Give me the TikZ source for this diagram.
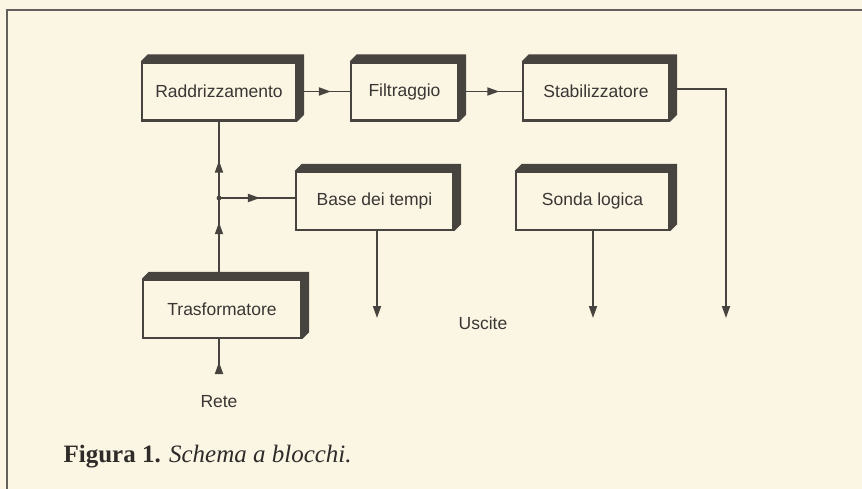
\documentclass[tikz,border=0pt]{standalone}
\usepackage{fontspec}
\setmainfont{Liberation Serif}
\setsansfont{Liberation Sans}
\usetikzlibrary{arrows.meta,calc,decorations.markings}
\definecolor{bgc}{HTML}{FBF6E4}
\definecolor{linec}{HTML}{47433F}
\definecolor{textc}{HTML}{3A3633}
\tikzset{
  blk/.style={draw=linec, line width=2.4pt, fill=bgc, minimum height=58pt,
    inner sep=0pt, font=\sffamily\fontsize{17.5}{20}\selectfont, text=textc},
  conn/.style={draw=linec, line width=1.8pt},
  tip/.style={-{Triangle[length=12pt,width=8pt]}},
  midarrow/.style={postaction={decorate},
    decoration={markings, mark=at position #1 with {\arrow{Triangle[length=12pt,width=8pt]}}}},
  lbl/.style={font=\sffamily\fontsize{17.5}{20}\selectfont, text=textc}
}
\begin{document}
\begin{tikzpicture}[x=1pt,y=-1pt]
\useasboundingbox (0,0) rectangle (862,489);
\fill[bgc] (0,0) rectangle (862,489);
\draw[draw=linec!85, line width=2pt] (7,489) -- (7,10) -- (862,10);

% blocks (front faces)
\node[blk, minimum width=154pt] (radd)  at (219,91.5)   {Raddrizzamento};
\node[blk, minimum width=107pt] (filt)  at (404.5,91.5) {Filtraggio};
\node[blk, minimum width=146pt] (stab)  at (596,91.5)   {Stabilizzatore};
\node[blk, minimum width=157pt] (base)  at (374.5,201)  {Base dei tempi};
\node[blk, minimum width=153pt] (sonda) at (592.5,201)  {Sonda logica};
\node[blk, minimum width=158pt] (trasf) at (222,309)    {Trasformatore};

% extruded dark edges
\foreach \n in {radd,filt,stab,base,sonda,trasf}{
  \fill[linec] (\n.north west) -- ++(7,-7) -- ($(\n.north east)+(7,-7)$)
    -- ($(\n.south east)+(7,-7)$) -- (\n.south east) -- (\n.north east) -- cycle;
}

% coordinates
\coordinate (J) at (219,198);
\coordinate (R) at (219,373);
\coordinate (O1) at (377,318);
\coordinate (O2) at (593,318);
\coordinate (O3) at (726,318);

% connectors
\draw[conn, midarrow=0.64] (radd) -- (filt);
\draw[conn, midarrow=0.64] (filt) -- (stab);
\draw[conn, tip] ($(stab.east)+(0,-2.5)$) -| (O3);
\draw[conn, tip] (O1 |- base.south) -- (O1);
\draw[conn, tip] (O2 |- sonda.south) -- (O2);
\draw[conn, midarrow=0.70] (J |- trasf.north) -- (J);
\draw[conn, midarrow=0.49] (J) -- (J |- radd.south);
\draw[conn, midarrow=0.54] (J) -- (J -| base.west);
\fill[linec] (J) circle (2.4pt);
\draw[conn, postaction={decorate}, decoration={markings,
  mark=at position 11pt with {\arrow{Triangle[length=12pt,width=8pt]}}}]
  (R) -- (R |- trasf.south);

% labels
\node[lbl] (rete) at (219,402) {Rete};
\node[lbl] (uscite) at (483,323) {Uscite};
\node[anchor=west, text=textc!80!black, font=\fontsize{25}{28}\selectfont] (cap) at (60,457)
  {\textbf{Figura 1.} \textit{Schema a blocchi.}};
\end{tikzpicture}
\end{document}
